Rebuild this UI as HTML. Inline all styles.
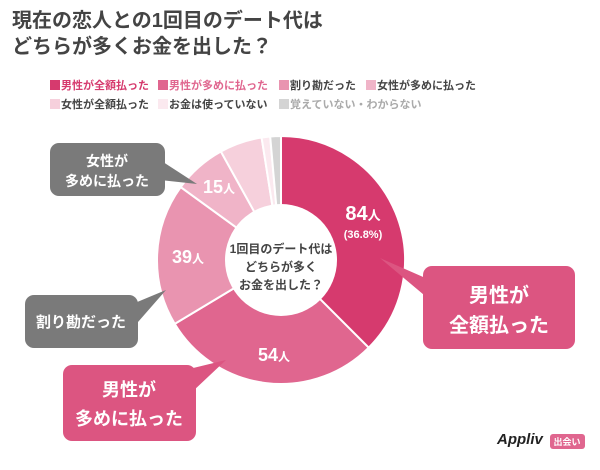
<!DOCTYPE html>
<html><head><meta charset="utf-8"><style>
body{margin:0;width:600px;height:465px;background:#fff;overflow:hidden;font-family:"Liberation Sans","Noto Sans CJK JP",sans-serif}
svg text{font-family:"Liberation Sans","Noto Sans CJK JP",sans-serif;font-weight:bold}
</style></head><body>
<svg id="s" width="600" height="465" viewBox="0 0 600 465" xmlns="http://www.w3.org/2000/svg">
<text x="12" y="27" font-size="20" fill="#444">現在の恋人との1回目のデート代は</text>
<text x="12" y="53" font-size="20" fill="#444">どちらが多くお金を出した？</text>
<g font-size="11">
<rect x="50" y="80" width="10" height="10" fill="#d63a6e"/><text x="61" y="89" fill="#d63a6e">男性が全額払った</text>
<rect x="158" y="80" width="10" height="10" fill="#e0668f"/><text x="169" y="89" fill="#e0668f">男性が多めに払った</text>
<rect x="279" y="80" width="10" height="10" fill="#e994b0"/><text x="290" y="89" fill="#444">割り勘だった</text>
<rect x="366" y="80" width="10" height="10" fill="#f0b4c8"/><text x="377" y="89" fill="#444">女性が多めに払った</text>
<rect x="50" y="99" width="10" height="10" fill="#f6d0dc"/><text x="61" y="108" fill="#444">女性が全額払った</text>
<rect x="158" y="99" width="10" height="10" fill="#fbe9ef"/><text x="169" y="108" fill="#444">お金は使っていない</text>
<rect x="279" y="99" width="10" height="10" fill="#d4d4d4"/><text x="290" y="108" fill="#aaa">覚えていない・わからない</text>
</g>
<g id="donut"></g>
<circle cx="281" cy="260" r="56" fill="#fff"/>
<g font-size="12" fill="#444" text-anchor="middle">
<text x="281" y="253">1回目のデート代は</text>
<text x="281" y="271">どちらが多く</text>
<text x="281" y="289">お金を出した？</text>
</g>
<g fill="#fff" text-anchor="middle">
<text x="363" y="220" font-size="20" font-weight="normal">84<tspan font-size="13">人</tspan></text>
<text x="363" y="238" font-size="11" font-weight="normal">(36.8%)</text>
<text x="274" y="361" font-size="18" font-weight="normal">54<tspan font-size="12">人</tspan></text>
<text x="188" y="263" font-size="18" font-weight="normal">39<tspan font-size="12">人</tspan></text>
<text x="219" y="193" font-size="18" font-weight="normal">15<tspan font-size="12">人</tspan></text>
</g>
<g fill="#7a7a7a">
<rect x="50" y="143" width="115" height="53" rx="9"/>
<polygon points="160,160 197,184 160,180"/>
<rect x="25" y="295" width="113" height="53" rx="9"/>
<polygon points="130,305 166,290 138,322"/>
</g>
<g fill="#dc5581">
<rect x="63" y="365" width="133" height="76" rx="9"/>
<polygon points="185,370 226,360 192,392"/>
<rect x="423" y="266" width="152" height="83" rx="9"/>
<polygon points="430,280 380,258 430,300"/>
</g>
<g fill="#fff" text-anchor="middle">
<text x="107" y="166" font-size="14">女性が</text>
<text x="107" y="186" font-size="14">多めに払った</text>
<text x="81" y="327" font-size="15">割り勘だった</text>
<text x="129" y="396" font-size="18">男性が</text>
<text x="129" y="425" font-size="18">多めに払った</text>
<text x="499" y="302" font-size="20">男性が</text>
<text x="499" y="332" font-size="20">全額払った</text>
</g>
<text x="497" y="444" font-size="15" font-style="italic" fill="#222" font-family="Liberation Serif,serif">Appliv</text>
<rect x="550" y="434" width="35" height="15" rx="3" fill="#e0668f"/>
<text x="567" y="445" font-size="9" fill="#fff" text-anchor="middle">出会い</text>
</svg>
<script>
var cx=281,cy=260,R=124,r=50;
var seg=[[0,135,"#d63a6e"],[135,239,"#e0668f"],[239,306,"#e994b0"],[306,331,"#f0b4c8"],[331,351,"#f6d0dc"],[351,355,"#fbe9ef"],[355,360,"#d4d4d4"]];
function p(a,rad){a=a*Math.PI/180;return [cx+rad*Math.sin(a),cy-rad*Math.cos(a)];}
var h="";
seg.forEach(function(s){var a=p(s[0],R),b=p(s[1],R),c=p(s[1],r),d=p(s[0],r);var l=(s[1]-s[0])>180?1:0;
h+='<path d="M'+a+' A'+R+','+R+' 0 '+l+' 1 '+b+' L'+c+' A'+r+','+r+' 0 '+l+' 0 '+d+' Z" fill="'+s[2]+'" stroke="#fff" stroke-width="2"/>';});
document.getElementById("donut").innerHTML=h;
</script>
</body></html>
